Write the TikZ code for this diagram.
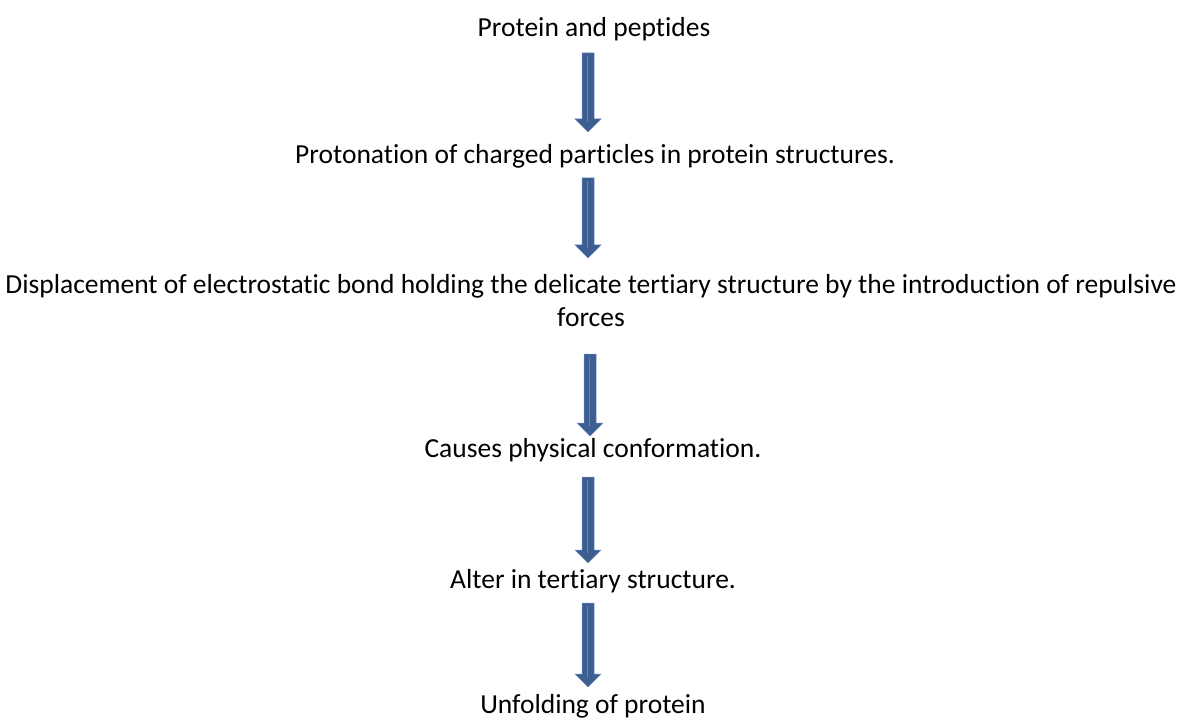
\documentclass[tikz,border=0pt]{standalone}
\usepackage{fontspec}
\setmainfont{Carlito}[Ligatures=NoCommon]
\usetikzlibrary{calc}
\definecolor{arrowblue}{RGB}{60,94,145}
\definecolor{arrowedge}{RGB}{110,140,190}
\definecolor{arrowstripe}{RGB}{95,135,195}
\tikzset{
  steptext/.style={anchor=base, inner sep=0pt, font=\fontsize{27.5}{33}\selectfont, align=center, text=black},
  arrowbody/.style={fill=arrowblue, draw=arrowedge, line width=0.5pt},
  arrowline/.style={draw=arrowstripe, line width=1pt}
}
\newcommand{\flowarrow}[2]{%
  \path[arrowbody] ($(#1)+(-6,0)$) -- ($(#2)+(-6,-13)$) -- ($(#2)+(-13,-13)$) -- (#2) -- ($(#2)+(13,-13)$) -- ($(#2)+(6,-13)$) -- ($(#1)+(6,0)$) -- cycle;
  \path[arrowline] ($(#1)+(-0.5,3)$) -- ($(#2)+(-0.5,-10)$);
}
\begin{document}
\begin{tikzpicture}[x=1pt,y=-1pt]
\useasboundingbox[fill=white] (0,0) rectangle (1178,722);
\node[steptext] (t1) at (594,37) {Protein and peptides};
\node[steptext] (t2) at (595,164) {Protonation of charged particles in protein structures.};
\node[steptext] (t3) at (591,326) {Displacement of electrostatic bond holding the delicate tertiary structure by the introduction of repulsive\\forces};
\node[steptext] (t4) at (593,457) {Causes physical conformation.};
\node[steptext] (t5) at (593,588) {Alter in tertiary structure.};
\node[steptext] (t6) at (593,713) {Unfolding of protein};
\coordinate (s1) at (588,53);  \coordinate (e1) at (588,132);
\coordinate (s2) at (588,178); \coordinate (e2) at (588,258);
\coordinate (s3) at (590,354); \coordinate (e3) at (590,436);
\coordinate (s4) at (588,477); \coordinate (e4) at (588,563);
\coordinate (s5) at (588,603); \coordinate (e5) at (588,687);
\flowarrow{s1}{e1}
\flowarrow{s2}{e2}
\flowarrow{s3}{e3}
\flowarrow{s4}{e4}
\flowarrow{s5}{e5}
\end{tikzpicture}
\end{document}
